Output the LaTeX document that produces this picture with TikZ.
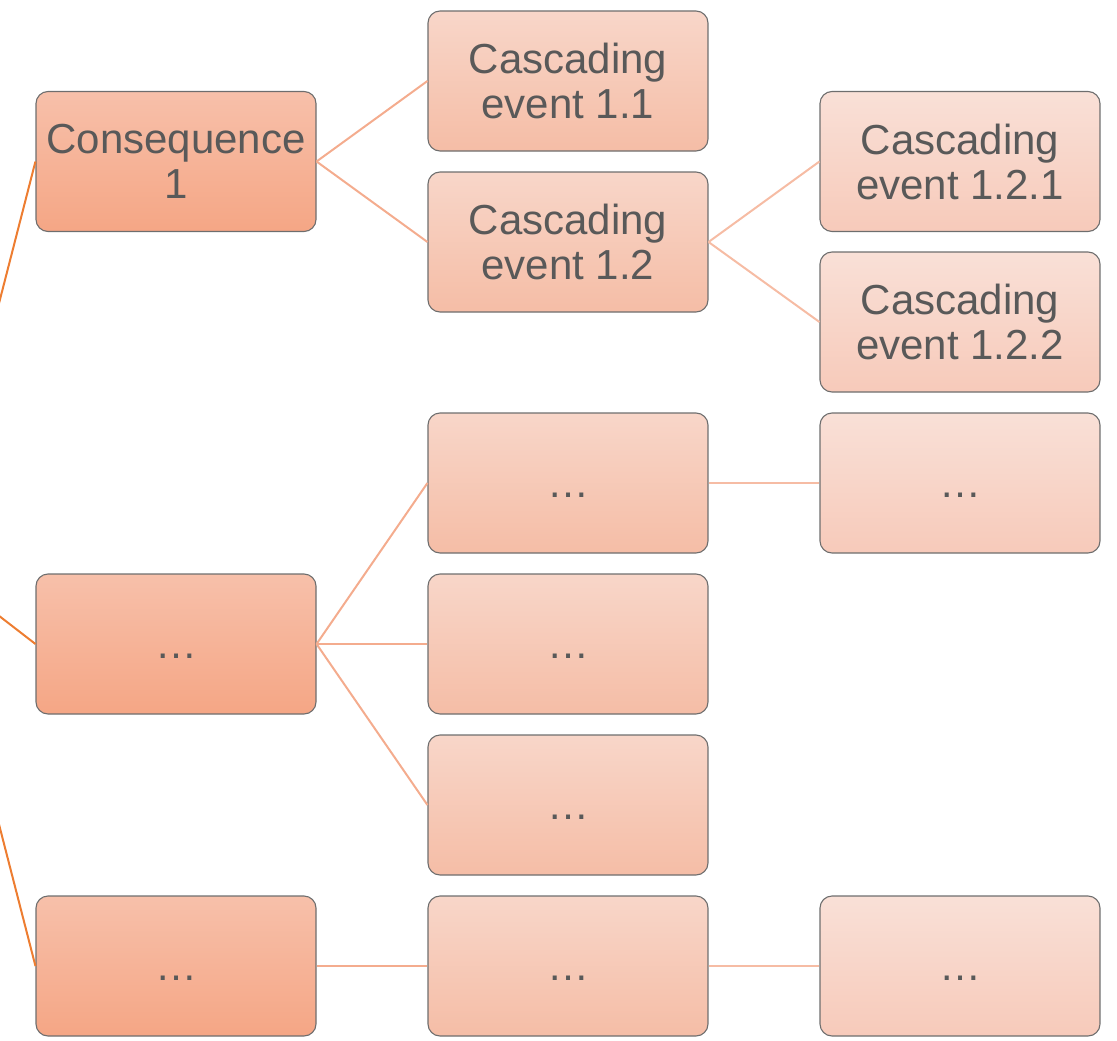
\documentclass[tikz,border=0pt]{standalone}
\usepackage{fontspec}
\setmainfont{Liberation Sans}
\definecolor{txt}{HTML}{595959}
\definecolor{edge}{HTML}{6E6E6E}
\definecolor{aTop}{RGB}{247,192,170}
\definecolor{aBot}{RGB}{245,166,133}
\definecolor{bTop}{RGB}{248,214,201}
\definecolor{bBot}{RGB}{245,189,166}
\definecolor{cTop}{RGB}{249,224,215}
\definecolor{cBot}{RGB}{247,202,186}
\definecolor{rootline}{RGB}{237,125,49}
\definecolor{linkA}{RGB}{244,172,142}
\definecolor{linkB}{RGB}{246,188,164}
% placeholder text, set on the baseline of a capital letter
\newcommand{\gap}{\vphantom{C}…}
\begin{document}
\begin{tikzpicture}[x=1pt,y=-1pt,
  box/.style={draw=edge, line width=1.1pt, rounded corners=12pt,
    minimum width=280pt, minimum height=140pt, inner sep=0pt,
    align=center, text=txt, font=\fontsize{42}{45}\selectfont},
  lvlA/.style={box, top color=aTop, bottom color=aBot},
  lvlB/.style={box, top color=bTop, bottom color=bBot},
  lvlC/.style={box, top color=cTop, bottom color=cBot},
  rootlink/.style={draw=rootline, line width=2pt},
  linka/.style={draw=linkA, line width=2pt},
  linkb/.style={draw=linkB, line width=2pt}]
\useasboundingbox (0,0) rectangle (1117,1041);
\clip (0,0) rectangle (1117,1041);

% root sits outside the visible area on the left
\coordinate (root) at (-68,564);

% first level
\node[lvlA] (c1) at (176,161.5) {Consequence\\1};
\node[lvlA] (c2) at (176,644) {\gap};
\node[lvlA] (c3) at (176,966) {\gap};

% second level
\node[lvlB] (e11) at (568,81) {Cascading\\event 1.1};
\node[lvlB] (e12) at (568,242) {Cascading\\event 1.2};
\node[lvlB] (e21) at (568,483) {\gap};
\node[lvlB] (e22) at (568,644) {\gap};
\node[lvlB] (e23) at (568,805) {\gap};
\node[lvlB] (e31) at (568,966) {\gap};

% third level
\node[lvlC] (e121) at (960,161.5) {Cascading\\event 1.2.1};
\node[lvlC] (e122) at (960,322) {Cascading\\event 1.2.2};
\node[lvlC] (e211) at (960,483) {\gap};
\node[lvlC] (e311) at (960,966) {\gap};

% connectors
\draw[rootlink] (root) -- (c1.west);
\draw[rootlink] (root) -- (c2.west);
\draw[rootlink] (root) -- (c3.west);

\draw[linka] (c1.east) -- (e11.west);
\draw[linka] (c1.east) -- (e12.west);
\draw[linka] (c2.east) -- (e21.west);
\draw[linka] (c2.east) -- (e22.west);
\draw[linka] (c2.east) -- (e23.west);
\draw[linka] (c3.east) -- (e31.west);

\draw[linkb] (e12.east) -- (e121.west);
\draw[linkb] (e12.east) -- (e122.west);
\draw[linkb] (e21.east) -- (e211.west);
\draw[linkb] (e31.east) -- (e311.west);
\end{tikzpicture}
\end{document}
